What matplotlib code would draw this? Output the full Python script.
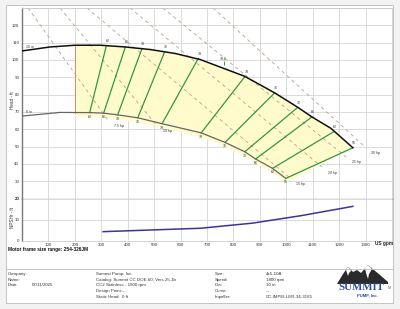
import numpy as np
import matplotlib
matplotlib.use("Agg")
import matplotlib.pyplot as plt
from matplotlib.patches import Polygon, Rectangle

plt.rcParams['font.family'] = ['Liberation Sans', 'DejaVu Sans']

# impeller curves (US gpm, ft)
q_10in = [0, 106, 201, 296, 391, 486, 581, 675, 842, 956, 1044, 1097, 1169, 1252]
h_10in = [105.2, 107.5, 108.5, 108.5, 107.5, 106.0, 103.7, 100.2, 90.6, 81.0, 72.6, 67.1, 60.5, 49.3]
q_8in = [0, 144, 256, 309, 362, 438, 530, 678, 768, 843, 884, 948, 998]
h_8in = [67.6, 69.7, 69.6, 69.3, 68.3, 66.6, 63.2, 57.9, 52.4, 47.0, 42.8, 37.4, 31.6]

# iso-efficiency lines
eff_labels = ['62', '66', '70', '76', '79', '79', '76', '72', '66', '62', '56']
eff_q_top = [319, 391, 454, 540, 667, 844, 956, 1043, 1097, 1180, 1252]
eff_h_top = [108.1, 107.5, 106.6, 104.8, 100.9, 90.5, 81.0, 72.6, 67.1, 58.6, 49.3]
eff_q_bot = [256, 309, 362, 438, 530, 678, 768, 843, 884, 948, 998]
eff_h_bot = [69.6, 69.3, 68.3, 66.6, 63.2, 57.9, 52.4, 47.0, 42.8, 37.4, 31.6]

# iso-power lines
hp_labels = ['7.5 hp', '10 hp', '15 hp', '20 hp', '25 hp', '30 hp']
hp_q_start = [23, 144, 246, 409, 533, 723]
hp_h_start = [130, 130, 130, 130, 130, 130]
hp_q_end = [325, 511, 1014, 1135, 1226, 1298]
hp_h_end = [65.3, 61.9, 31.8, 38.2, 44.0, 49.7]

# NPSHr
q_npsh = [307, 676, 872, 1055, 1252]
npsh = [4.4, 6.0, 8.4, 11.9, 16.3]

bep_q, bep_h, bep_eff = 763, 96.5, '79.6'
q_min = 200

W, H = 400, 309
fig = plt.figure(figsize=(4.0, 3.09), dpi=100, facecolor='#f2f2f2')
fig.patches.append(Rectangle((6 / W, 1 - 303 / H), 387 / W, 298 / H, transform=fig.transFigure,
                             facecolor='white', edgecolor='#bbbbbb', lw=0.6, zorder=-10))

ax = fig.add_axes([22 / W, 1 - 198.5 / H, 370 / W, 190.5 / H])
ax2 = fig.add_axes([22 / W, 1 - 241 / H, 370 / W, 42.5 / H])

grid_c = '#d4d4d4'
for a in (ax, ax2):
    a.set_xlim(0, 1400)
    a.set_xticks(np.arange(0, 1401, 100))
    a.grid(True, color=grid_c, lw=0.6)
    a.set_axisbelow(True)
    a.tick_params(length=0, labelsize=3.2, colors='#333333', pad=2)
    for s in a.spines.values():
        s.set_color('#cccccc')
        s.set_linewidth(0.6)
    a.spines['left'].set_color('#777777')
    a.spines['left'].set_linewidth(1.0)

ax.set_ylim(20, 130)
ax.set_yticks(np.arange(20, 131, 10))
ax.set_yticklabels([str(v) if v < 130 else '' for v in range(20, 131, 10)])
ax.set_xticklabels([])
ax.spines['bottom'].set_color('#777777')
ax.spines['bottom'].set_linewidth(0.9)

ax2.set_ylim(0, 20)
ax2.set_yticks([0, 10, 20])
ax2.set_xticklabels(['' if v in (0, 1400) else str(v) for v in range(0, 1401, 100)])
ax2.spines['top'].set_visible(False)
ax2.tick_params(axis='x', pad=1.5)

# preferred operating region
top_part = [(q, h) for q, h in zip(q_10in, h_10in) if q > q_min]
bot_part = [(q, h - 2.5) for q, h in zip(q_8in[::-1], h_8in[::-1]) if q > q_min]
h_min_top = np.interp(q_min, q_10in, h_10in)
h_min_bot = np.interp(q_min, q_8in, h_8in)
poly_q = [q_min] + [p[0] for p in top_part] + [p[0] for p in bot_part] + [q_min]
poly_h = [h_min_top] + [p[1] for p in top_part] + [p[1] for p in bot_part] + [h_min_bot - 2.5]
ax.fill(poly_q, poly_h, color='#fffbcc', lw=0, zorder=1)
ax.plot([q_min, q_min], [h_min_bot, h_min_top], color='#e88080', lw=0.7, zorder=2)

# hp lines
for lab, q0, h0, q1, h1 in zip(hp_labels, hp_q_start, hp_h_start, hp_q_end, hp_h_end):
    ax.plot([q0, q1], [h0, h1], color='#b8a08c', lw=0.6, ls=(0, (4, 4)), zorder=2)
    ax.text(q1 + 22, h1 - 3.2, lab, fontsize=2.5, color='#333333', va='center', ha='left', zorder=5)

# efficiency lines
for lab, qt, ht, qb, hb in zip(eff_labels, eff_q_top, eff_h_top, eff_q_bot, eff_h_bot):
    ax.plot([qt, qb], [ht, hb], color='#2f9a40', lw=0.9, zorder=3)
    ax.text(qt + 5, ht + 1.5, lab, fontsize=2.6, color='#333333', ha='center', va='bottom', zorder=5)
    ax.text(qb, hb - 1.2, lab, fontsize=2.6, color='#333333', ha='center', va='top', zorder=5)

# impeller curves
ax.plot(q_10in, h_10in, color='#111111', lw=1.1, zorder=4)
ax.plot(q_8in, h_8in, color='#666666', lw=0.9, zorder=4)
ax.text(15, h_10in[0] + 1.2, '10 in', fontsize=2.6, color='#333333', ha='left', va='bottom')
ax.text(15, h_8in[0] + 1.2, '8 in', fontsize=2.6, color='#333333', ha='left', va='bottom')

# best efficiency point
ax.plot([bep_q], [bep_h + 1.5], marker='|', color='#2f9a40', ms=2.5, mew=0.7, zorder=5)
ax.text(bep_q, bep_h + 3, bep_eff, fontsize=2.6, color='#333333', ha='center', va='bottom')

# NPSHr curve
ax2.plot(q_npsh, npsh, color='#3a3596', lw=1.1)

fig.text(13 / W, 1 - 100 / H, 'Head - ft', rotation=90, fontsize=3.3, ha='center', va='center', color='#333333')
fig.text(13 / W, 1 - 218 / H, 'NPSHr - ft', rotation=90, fontsize=3.3, ha='center', va='center', color='#333333')
fig.text(393 / W, 1 - 243 / H, 'US gpm', fontsize=3.4, fontweight='bold', ha='right', va='center', color='#222222')
fig.text(8 / W, 1 - 249.5 / H, 'Motor frame size range: 254-326JM', fontsize=3.4, fontweight='bold',
         ha='left', va='center', color='#111111')

# info block
fig.add_artist(plt.Line2D([6 / W, 393 / W], [1 - 269 / H, 1 - 269 / H], color='#bbbbbb', lw=0.6))
rows = [274, 279.7, 285.4, 291.1, 296.8]
left_lab = ['Company:', 'Name:', 'Date:']
left_val = ['', '', '07/11/2025']
mid_txt = ['Summit Pump, Inc.', 'Catalog: Summit CC DOE.60, Vers 25.1b', 'CC2 Stainless - 1800 rpm',
           'Design Point:', 'Static Head:']
mid_val = ['', '', '', '---', '0 ft']
right_lab = ['Size:', 'Speed:', 'Dia:', 'Curve:', 'Impeller:']
right_val = ['4x5-10A', '1800 rpm', '10 in', '---', 'CC-IMPELLER-34-3165']
kw = dict(fontsize=3.2, color='#333333', va='center', ha='left')
for i, y in enumerate(rows):
    yy = 1 - y / H
    if i < 3:
        fig.text(8 / W, yy, left_lab[i], **kw)
        fig.text(32 / W, yy, left_val[i], **kw)
    fig.text(96 / W, yy, mid_txt[i], **kw)
    fig.text(122 / W, yy, mid_val[i], **kw)
    fig.text(215 / W, yy, right_lab[i], **kw)
    fig.text(266 / W, yy, right_val[i], **kw)

# logo
lax = fig.add_axes([335 / W, 1 - 298 / H, 58 / W, 33 / H])
lax.set_xlim(335, 393)
lax.set_ylim(298, 265)
lax.axis('off')
mount = [(337, 284), (343, 274), (348, 267), (353, 272), (357, 270), (361, 273), (368, 265),
         (374, 270), (380, 275), (388, 282), (388, 284)]
lax.add_patch(Polygon(mount, closed=True, facecolor='#2a2a2a', edgecolor='none'))
snow = [(346, 270), (348, 267), (351, 271), (349, 273), (348, 276)]
lax.add_patch(Polygon(snow, closed=True, facecolor='white', edgecolor='none'))
snow2 = [(365, 268), (368, 265), (372, 269), (369, 274), (368, 279), (366, 273)]
lax.add_patch(Polygon(snow2, closed=True, facecolor='white', edgecolor='none'))
lax.text(361, 288, 'SUMMIT', fontsize=7.8, fontweight='bold', family='Liberation Serif',
         color='#2a4aa0', ha='center', va='center')
lax.text(388, 288, 'TM', fontsize=1.8, color='#333333', ha='left', va='center')
lax.text(367, 295, 'PUMP, Inc.', fontsize=3.0, fontweight='bold', color='#2a4aa0', ha='center', va='center')

fig.savefig('out.png', dpi=100, facecolor=fig.get_facecolor())
